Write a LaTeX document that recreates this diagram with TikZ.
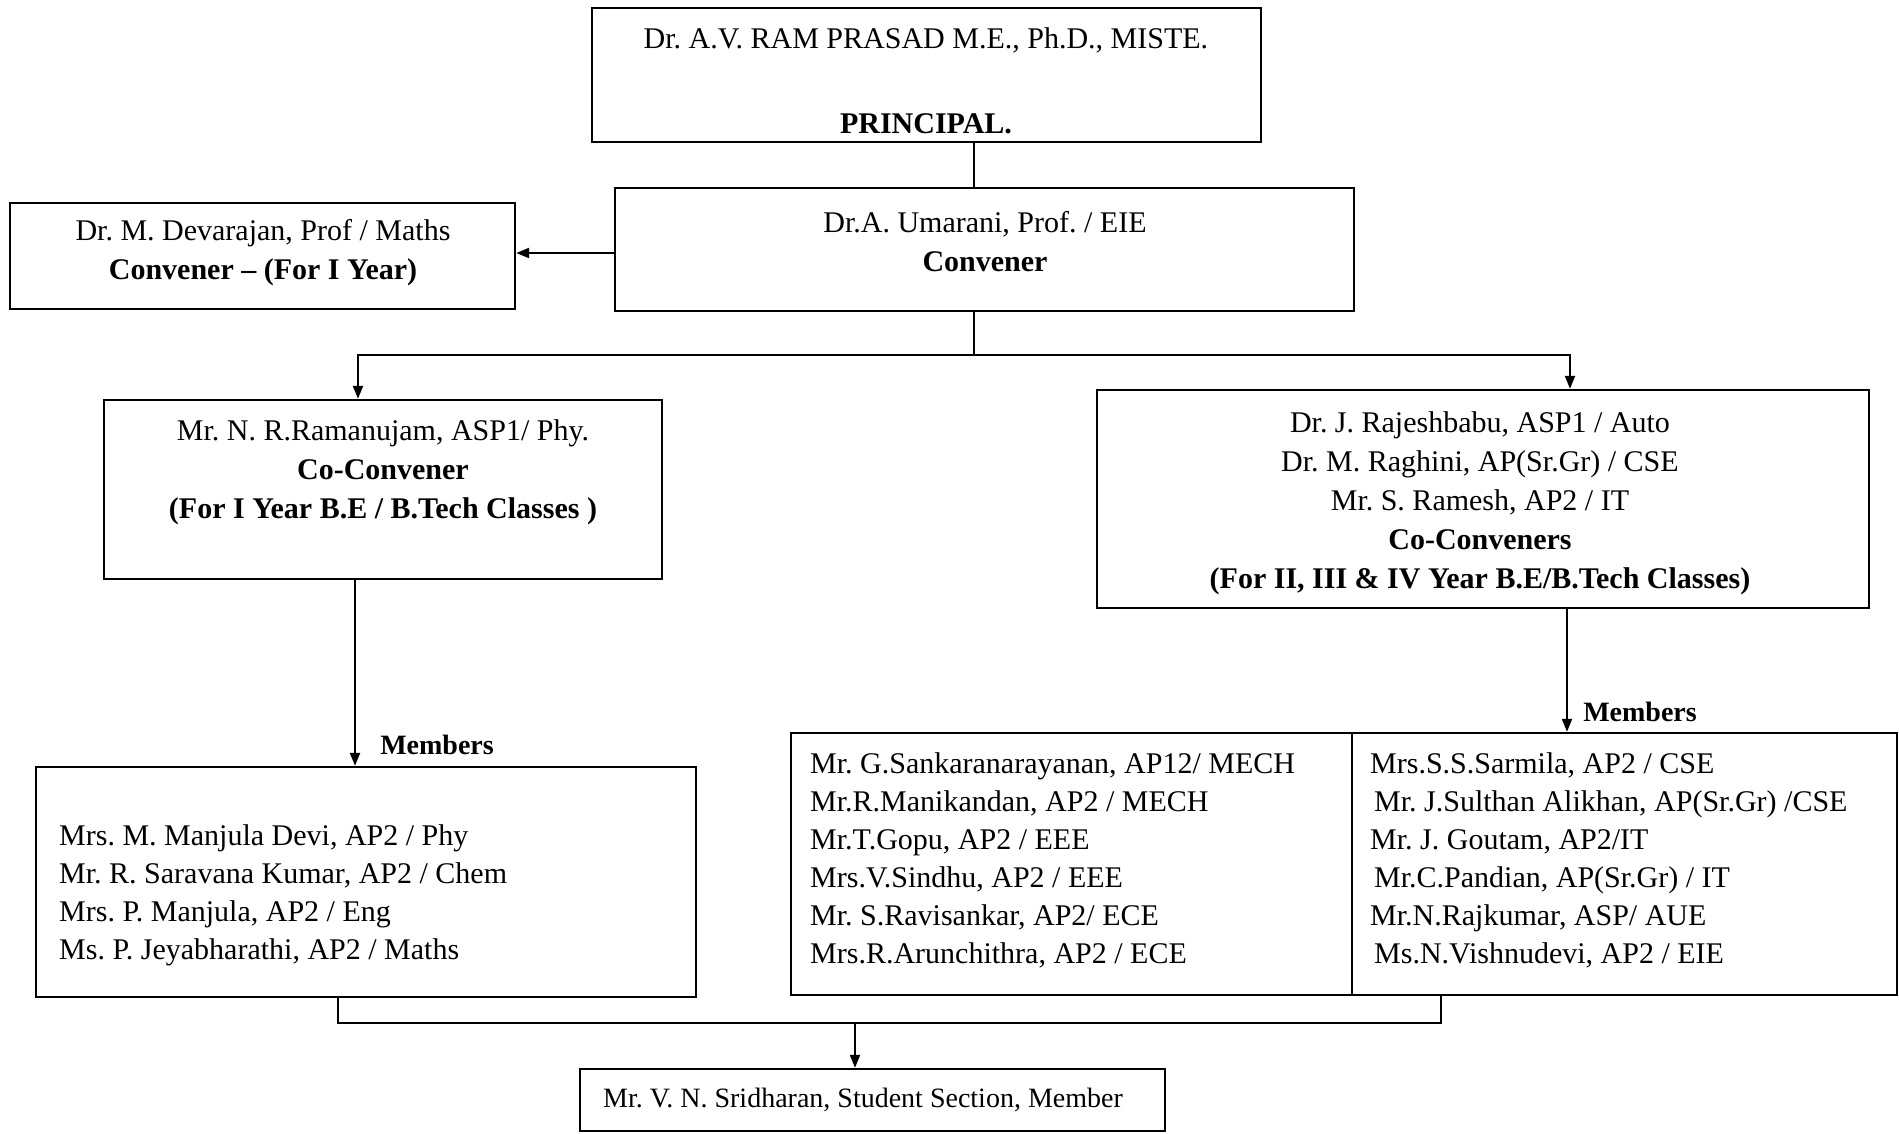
\documentclass[tikz,border=0pt]{standalone}
\usepackage{fontspec}
\setmainfont{Liberation Serif}
\usetikzlibrary{arrows.meta}
\frenchspacing
\begin{document}
\begin{tikzpicture}[x=1pt,y=-1pt,
  box/.style={draw, line width=2.4pt, inner sep=0pt, minimum width=#1},
  txt/.style={inner sep=0pt, align=center, font=\fontsize{30}{39}\selectfont},
  ltxt/.style={inner sep=0pt, align=left, anchor=west, font=\fontsize{30}{38}\selectfont},
  conn/.style={line width=2.2pt},
  arr/.style={line width=2.2pt, -{Triangle[length=13pt,width=10pt]}}]
\useasboundingbox (0,0) rectangle (1899,1133);
% boxes
\node[box=669pt, minimum height=134pt] (P) at (926.5,75) {};
\node[box=739pt, minimum height=123pt] (C) at (984.5,249.5) {};
\node[box=505pt, minimum height=106pt] (D) at (262.5,256) {};
\node[box=558pt, minimum height=179pt] (L) at (383,489.5) {};
\node[box=772pt, minimum height=218pt] (R) at (1483,499) {};
\node[box=660pt, minimum height=230pt] (LM) at (366,882) {};
\node[box=1106pt, minimum height=262pt] (RM) at (1344,864) {};
\node[box=585pt, minimum height=62pt] (S) at (872.5,1100) {};
% texts
\node[txt] (ptxt1) at (926,40) {Dr. A.V. RAM PRASAD M.E., Ph.D., MISTE.};
\node[txt] (ptxt2) at (926,124) {\textbf{PRINCIPAL.}};
\node[txt] (ctxt) at (985,242) {Dr.A. Umarani, Prof. / EIE\\\textbf{Convener}};
\node[txt] (dtxt) at (263,253) {Dr. M. Devarajan, Prof / Maths\\\textbf{Convener – (For I Year)}};
\node[txt] (ltxt) at (383,472) {Mr. N. R.Ramanujam, ASP1/ Phy.\\\textbf{Co-Convener}\\\textbf{(For I Year B.E / B.Tech Classes )}};
\node[txt] (rtxt) at (1480,503) {Dr. J. Rajeshbabu, ASP1 / Auto\\Dr. M. Raghini, AP(Sr.Gr) / CSE\\Mr. S. Ramesh, AP2 / IT\\\textbf{Co-Conveners}\\\textbf{(For II, III \& IV Year B.E/B.Tech Classes)}};
\node[ltxt] (lmtxt) at (59,895) {Mrs. M. Manjula Devi, AP2 / Phy\\Mr. R. Saravana Kumar, AP2 / Chem\\Mrs. P. Manjula, AP2 / Eng\\Ms. P. Jeyabharathi, AP2 / Maths};
\node[ltxt] (rmtxt1) at (810,860) {Mr. G.Sankaranarayanan, AP12/ MECH\\Mr.R.Manikandan, AP2 / MECH\\Mr.T.Gopu, AP2 / EEE\\Mrs.V.Sindhu, AP2 / EEE\\Mr. S.Ravisankar, AP2/ ECE\\Mrs.R.Arunchithra, AP2 / ECE};
\node[ltxt] (rmtxt2) at (1370,860) {Mrs.S.S.Sarmila, AP2 / CSE\\\hspace*{4pt}Mr. J.Sulthan Alikhan, AP(Sr.Gr) /CSE\\Mr. J. Goutam, AP2/IT\\\hspace*{4pt}Mr.C.Pandian, AP(Sr.Gr) / IT\\Mr.N.Rajkumar, ASP/ AUE\\\hspace*{4pt}Ms.N.Vishnudevi, AP2 / EIE};
\node[txt, font=\fontsize{28}{34}\selectfont] (stxt) at (863,1100) {Mr. V. N. Sridharan, Student Section, Member};
\node[txt, font=\fontsize{28}{34}\selectfont\bfseries] (mem1) at (437,745) {Members};
\node[txt, font=\fontsize{28}{34}\selectfont\bfseries] (mem2) at (1640,712) {Members};
% coordinates
\coordinate (j) at (974,355);
\coordinate (bL) at (358,355);
\coordinate (bR) at (1570,355);
\coordinate (ya) at (0,253);
\coordinate (xm1) at (355,0);
\coordinate (xm2) at (1567,0);
\coordinate (xd) at (1352,0);
\coordinate (qL) at (338,1023);
\coordinate (qR) at (1441,1023);
\coordinate (qC) at (855,1023);
% connectors
\draw[conn] (P.south -| j) -- (C.north -| j);
\draw[arr] (C.west |- ya) -- (D.east |- ya);
\draw[conn] (C.south -| j) -- (j);
\draw[arr] (j) -- (bL) -- (L.north -| bL);
\draw[arr] (j) -- (bR) -- (R.north -| bR);
\draw[arr] (L.south -| xm1) -- (LM.north -| xm1);
\draw[arr] (R.south -| xm2) -- (RM.north -| xm2);
\draw[line width=2.4pt] (RM.north -| xd) -- (RM.south -| xd);
\draw[conn] (LM.south -| qL) -- (qL) -- (qR) -- (RM.south -| qR);
\draw[arr] (qC) -- (S.north -| qC);
\end{tikzpicture}
\end{document}
